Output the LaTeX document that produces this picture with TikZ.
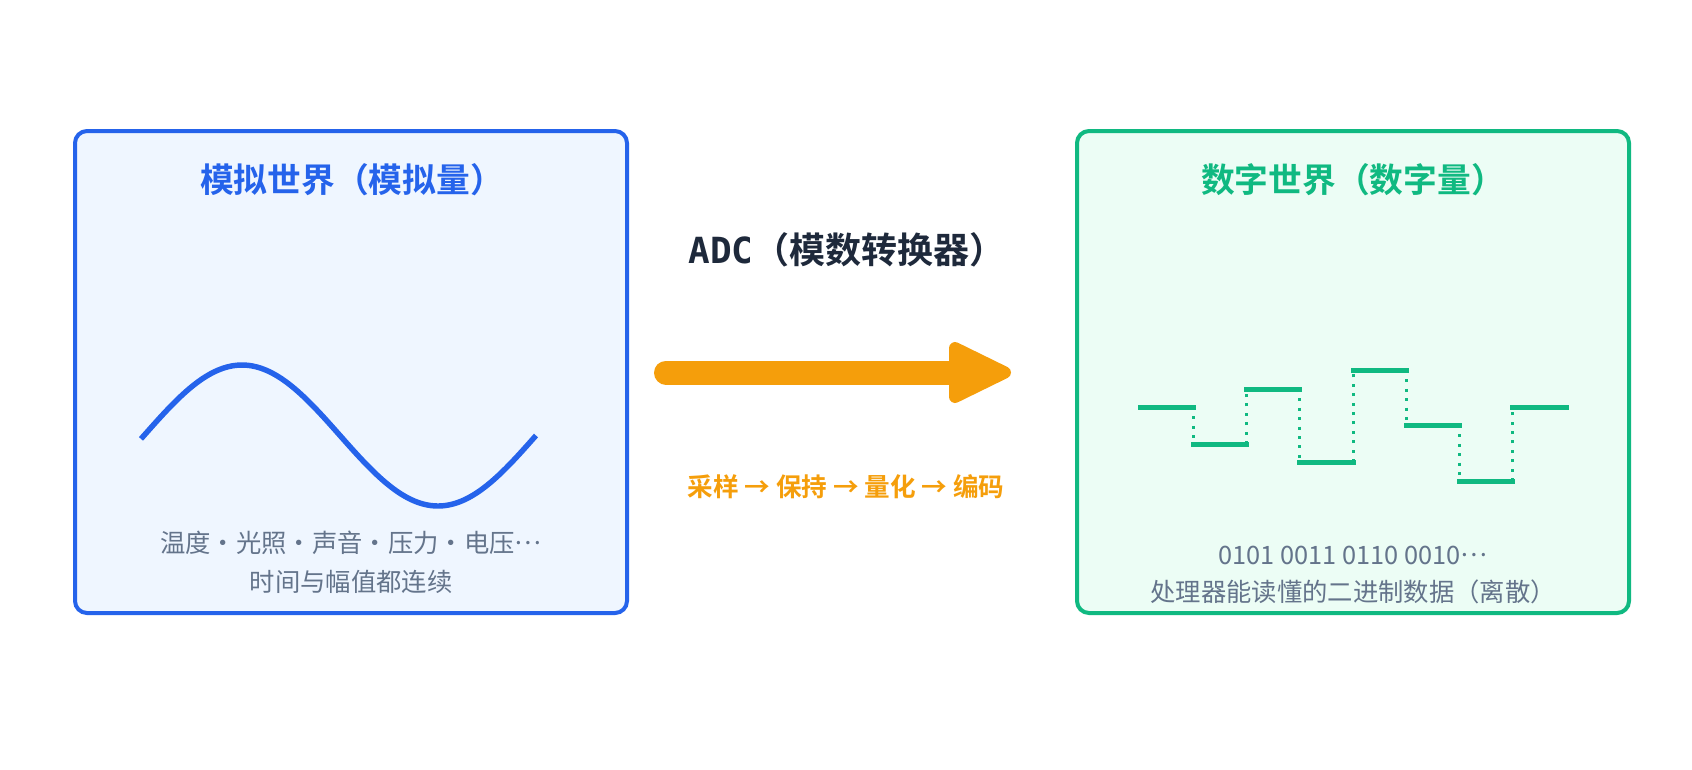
\documentclass[tikz,border=0pt]{standalone}
\usepackage{fontspec}
\setmainfont{Noto Sans CJK SC}[BoldFont={Noto Sans CJK SC Bold}]
\newfontfamily\adcmono{DejaVu Sans Mono}
\usetikzlibrary{positioning}

\definecolor{blueline}{HTML}{2563EB}
\definecolor{bluefill}{HTML}{EFF6FF}
\definecolor{greenline}{HTML}{10B981}
\definecolor{greenfill}{HTML}{ECFDF5}
\definecolor{adcorange}{HTML}{F59E0B}
\definecolor{slate}{HTML}{64748B}
\definecolor{navy}{HTML}{1E293B}

\newcommand\midell{\raisebox{0.3em}{…}}

\tikzset{
  worldbox/.style={line width=3pt, rounded corners=9pt},
  worldtitle/.style={font=\bfseries\fontsize{25.3pt}{28pt}\selectfont},
  worldnote/.style={text=slate, align=center},
  stepline/.style={greenline, line width=3.75pt, line cap=rect},
  stepdots/.style={greenline, line width=2.25pt, dash pattern=on 2.25pt off 4.8pt}
}

\begin{document}
\begin{tikzpicture}[x=0.75pt, y=-0.75pt]
\useasboundingbox (0,0) rectangle (1692,769);

\def\ytop{131}
\def\ybot{613}

\draw[worldbox, blueline, fill=bluefill] (75,\ytop) rectangle (627,\ybot);
\draw[worldbox, greenline, fill=greenfill] (1077,\ytop) rectangle (1629,\ybot);

\node[worldtitle, text=blueline] (atitle) at (352,180) {模拟世界（模拟量）};
\node[worldtitle, text=greenline] (dtitle) at (1353,180) {数字世界（数字量）};

\draw[blueline, line width=4.1pt]
  plot[smooth, domain=141:536, samples=80] (\x, {435.5-70.5*cos(0.918367*(\x-242))});

\node[worldnote, font=\fontsize{19pt}{29.25pt}\selectfont] (anote) at (351,562)
  {温度·光照·声音·压力·电压\midell\\时间与幅值都连续};

\foreach \lv [count=\i from 0] in {407,444,389,462,370,425,481,407}
  \draw[stepline] ({1140+53.25*\i},\lv) -- ({1140+53.25*(\i+1)},\lv);
\foreach \i/\ya/\yb in {1/407/444,2/444/389,3/389/462,4/462/370,5/370/425,6/425/481,7/481/407}
  \draw[stepdots] ({1140+53.25*\i},\ya) -- ({1140+53.25*\i},\yb);

\node[worldnote, font=\fontsize{19pt}{27.75pt}\selectfont] (dnote) at (1353,575)
  {0101 0011 0110 0010\midell\\处理器能读懂的二进制数据（离散）};

\node[text=navy, font=\bfseries\fontsize{27pt}{30pt}\selectfont] (adc) at (847,250)
  {{\adcmono ADC}（模数转换器）};

\coordinate (tail) at (666,372.5);
\coordinate (head) at (958,372.5);
\draw[adcorange, line width=18pt, line cap=round] (tail) -- (head);
\filldraw[adcorange, line width=9pt, line join=round] (955,348) -- (1005,372.5) -- (955,397) -- cycle;

\node[text=adcorange, font=\bfseries\fontsize{19.2pt}{22pt}\selectfont] (steps) at (846,487)
  {采样 → 保持 → 量化 → 编码};
\end{tikzpicture}
\end{document}
